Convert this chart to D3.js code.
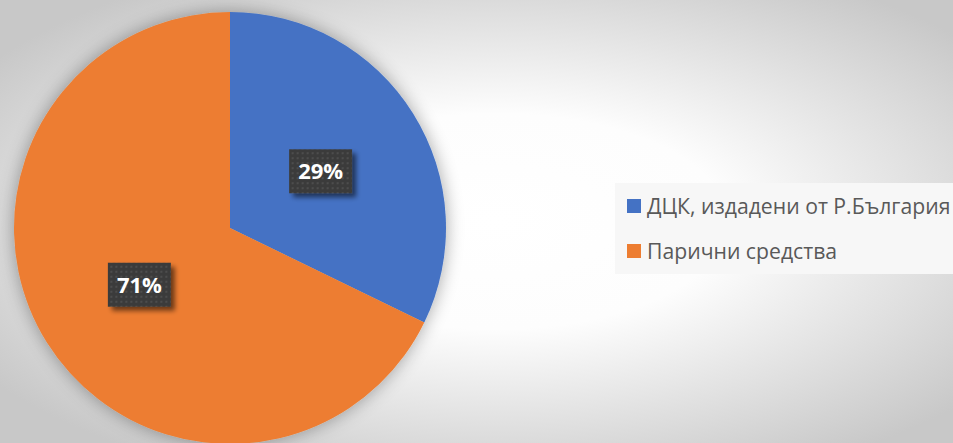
<!DOCTYPE html>
<html>
<head>
<meta charset="utf-8">
<script src="https://cdn.jsdelivr.net/npm/d3@7"></script>
<style>
  html, body { margin: 0; padding: 0; background: #fff; }
  svg { display: block; }
</style>
</head>
<body>
<svg id="chart" width="953" height="443"></svg>
<script>
// Data
const categories = ["ДЦК, издадени от Р.България", "Парични средства"];
const values = [32.2, 67.8];            // slice shares as drawn
const valueLabels = ["29%", "71%"];     // data labels as printed
const colors = ["#4472C4", "#ED7D31"];

const W = 953, H = 443;
const svg = d3.select("#chart");
const defs = svg.append("defs");

// Background radial gradient
const bg = defs.append("radialGradient").attr("id", "bg")
  .attr("cx", "52%").attr("cy", "50%").attr("r", "64%");
bg.append("stop").attr("offset", "0%").attr("stop-color", "#ffffff");
bg.append("stop").attr("offset", "38%").attr("stop-color", "#fdfdfd");
bg.append("stop").attr("offset", "100%").attr("stop-color", "#c8c8c8");
svg.append("rect").attr("width", W).attr("height", H).attr("fill", "url(#bg)");

// Shadow filters
const pf = defs.append("filter").attr("id", "pieShadow")
  .attr("x", "-20%").attr("y", "-20%").attr("width", "140%").attr("height", "140%");
pf.append("feGaussianBlur").attr("in", "SourceAlpha").attr("stdDeviation", 9).attr("result", "b");
pf.append("feComponentTransfer").attr("in", "b").attr("result", "b2")
  .append("feFuncA").attr("type", "linear").attr("slope", 0.35);
const pm = pf.append("feMerge");
pm.append("feMergeNode").attr("in", "b2");
pm.append("feMergeNode").attr("in", "SourceGraphic");

const lf = defs.append("filter").attr("id", "lblShadow")
  .attr("x", "-30%").attr("y", "-30%").attr("width", "160%").attr("height", "160%");
lf.append("feGaussianBlur").attr("in", "SourceAlpha").attr("stdDeviation", 2.5).attr("result", "b");
lf.append("feOffset").attr("in", "b").attr("dx", 4).attr("dy", 4).attr("result", "o");
lf.append("feComponentTransfer").attr("in", "o").attr("result", "o2")
  .append("feFuncA").attr("type", "linear").attr("slope", 0.55);
const lm = lf.append("feMerge");
lm.append("feMergeNode").attr("in", "o2");
lm.append("feMergeNode").attr("in", "SourceGraphic");

// Dotted pattern for label boxes
const pat = defs.append("pattern").attr("id", "dots")
  .attr("patternUnits", "userSpaceOnUse").attr("width", 5).attr("height", 5);
pat.append("rect").attr("width", 5).attr("height", 5).attr("fill", "#3b3b3b");
pat.append("rect").attr("x", 1).attr("y", 1).attr("width", 2).attr("height", 2).attr("fill", "#4e4e4e");

// Pie
const cx = 230, cy = 228, R = 216;
const pie = d3.pie().sort(null).value(d => d)(values);
const arc = d3.arc().innerRadius(0).outerRadius(R);
const labelArc = d3.arc().innerRadius(R * 0.495).outerRadius(R * 0.495);

const g = svg.append("g").attr("transform", `translate(${cx},${cy})`);
g.append("g").attr("filter", "url(#pieShadow)")
  .selectAll("path").data(pie).join("path")
  .attr("d", arc).attr("fill", (d, i) => colors[i]);

const boxW = 63, boxH = 44;
const lbl = g.selectAll("g.lbl").data(pie).join("g").attr("class", "lbl")
  .attr("transform", d => `translate(${labelArc.centroid(d)})`);
lbl.append("rect")
  .attr("x", -boxW / 2).attr("y", -boxH / 2).attr("width", boxW).attr("height", boxH)
  .attr("fill", "url(#dots)").attr("filter", "url(#lblShadow)");
lbl.append("text")
  .attr("text-anchor", "middle").attr("dy", "0.36em")
  .attr("font-family", "'Open Sans', sans-serif").attr("font-weight", "bold")
  .attr("font-size", 22).attr("fill", "#ffffff")
  .text((d, i) => valueLabels[i]);

// Legend
const leg = svg.append("g");
leg.append("rect").attr("x", 615).attr("y", 183).attr("width", 338).attr("height", 91)
  .attr("fill", "#f7f7f7");
const items = leg.selectAll("g.item").data(categories).join("g").attr("class", "item")
  .attr("transform", (d, i) => `translate(627,${199 + i * 45})`);
items.append("rect").attr("width", 14).attr("height", 14).attr("fill", (d, i) => colors[i]);
items.append("text").attr("x", 20).attr("y", 14.5)
  .attr("font-family", "'Open Sans', sans-serif").attr("font-size", 21.2)
  .attr("fill", "#595959").text(d => d);
</script>
</body>
</html>
